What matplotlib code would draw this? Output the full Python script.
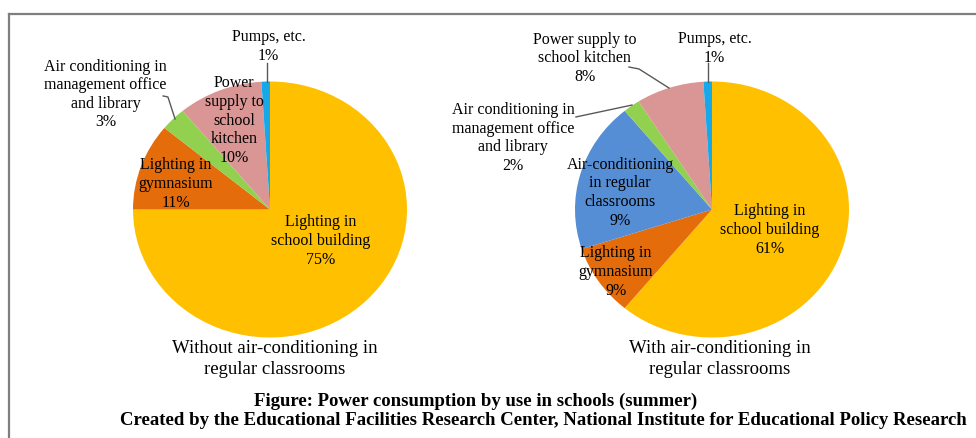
import matplotlib.pyplot as plt
from matplotlib.lines import Line2D

plt.rcParams['font.family'] = ['Liberation Serif', 'DejaVu Serif']

# without air-conditioning in regular classrooms
left_values = [75, 11, 3, 10, 1]
left_labels = ['Lighting in\nschool building\n75%',
               'Lighting in\ngymnasium\n11%',
               'Air conditioning in\nmanagement office\nand library\n3%',
               'Power\nsupply to\nschool\nkitchen\n10%',
               'Pumps, etc.\n1%']
left_colors = ['#FFC000', '#E46C0A', '#92D050', '#D99694', '#17A8EA']

# with air-conditioning in regular classrooms
right_values = [61, 9, 19, 2, 8, 1]
right_labels = ['Lighting in\nschool building\n61%',
                'Lighting in\ngymnasium\n9%',
                'Air-conditioning\nin regular\nclassrooms\n9%',
                'Air conditioning in\nmanagement office\nand library\n2%',
                'Power supply to\nschool kitchen\n8%',
                'Pumps, etc.\n1%']
right_colors = ['#FFC000', '#E46C0A', '#558ED5', '#92D050', '#D99694', '#17A8EA']

# label positions (in pie radius units)
left_pos = [(0.37, -0.238), (-0.69, 0.207), (-1.20, 0.906), (-0.26, 0.703), (-0.01, 1.28)]
right_pos = [(0.42, -0.152), (-0.70, -0.48), (-0.67, 0.14), (-1.45, 0.566), (-0.93, 1.19), (0.02, 1.265)]

W, H = 976, 439
fig = plt.figure(figsize=(9.76, 4.39), dpi=100)
rx, ry = 137, 128   # pies are slightly stretched sideways in the original
lsz = 11.5
lsp = 1.22
lead = '#595959'


def pie_axes(cx, cy):
    return fig.add_axes([(cx - rx) / W, 1 - (cy + ry) / H, 2 * rx / W, 2 * ry / H])


ax1 = pie_axes(270, 210.5)
ax1.pie(left_values, colors=left_colors, startangle=90, counterclock=False,
        radius=1, wedgeprops=dict(linewidth=0))
for lab, (x, y) in zip(left_labels, left_pos):
    ax1.text(x, y, lab, ha='center', va='center', fontsize=lsz, linespacing=lsp)
# leader lines
ax1.plot([-0.02, -0.02], [1.0, 1.145], color=lead, lw=1, clip_on=False)
ax1.plot([-0.78, -0.745, -0.693], [0.887, 0.879, 0.707], color=lead, lw=1, clip_on=False)
ax1.set_xlim(-1, 1)
ax1.set_ylim(-1, 1)
ax1.set_aspect('auto')
ax1.axis('off')

ax2 = pie_axes(712, 210.5)
ax2.pie(right_values, colors=right_colors, startangle=90, counterclock=False,
        radius=1, wedgeprops=dict(linewidth=0))
for lab, (x, y) in zip(right_labels, right_pos):
    ax2.text(x, y, lab, ha='center', va='center', fontsize=lsz, linespacing=lsp)
ax2.plot([-0.03, -0.03], [1.0, 1.145], color=lead, lw=1, clip_on=False)
ax2.plot([-0.606, -0.533, -0.314], [1.113, 1.098, 0.949], color=lead, lw=1, clip_on=False)
ax2.plot([-0.993, -0.584], [0.723, 0.816], color=lead, lw=1, clip_on=False)
ax2.set_xlim(-1, 1)
ax2.set_ylim(-1, 1)
ax2.set_aspect('auto')
ax2.axis('off')

fig.text(275 / W, 1 - 359 / H, 'Without air-conditioning in\nregular classrooms',
         ha='center', va='center', fontsize=13.5, linespacing=1.33)
fig.text(720 / W, 1 - 359 / H, 'With air-conditioning in\nregular classrooms',
         ha='center', va='center', fontsize=13.5, linespacing=1.33)

fig.text(476 / W, 1 - 401 / H, 'Figure: Power consumption by use in schools (summer)',
         ha='center', va='center', fontsize=13.5, fontweight='bold')
fig.text(543 / W, 1 - 421 / H,
         'Created by the Educational Facilities Research Center, National Institute for Educational Policy Research',
         ha='center', va='center', fontsize=13.5, fontweight='bold')

# grey frame (top and left edges)
fig.add_artist(Line2D([8.5 / W, 1], [1 - 15 / H, 1 - 15 / H], color='#7F7F7F', lw=1.6))
fig.add_artist(Line2D([8.5 / W, 8.5 / W], [0, 1 - 15 / H], color='#7F7F7F', lw=1.6))

plt.savefig('out.png', dpi=100)
